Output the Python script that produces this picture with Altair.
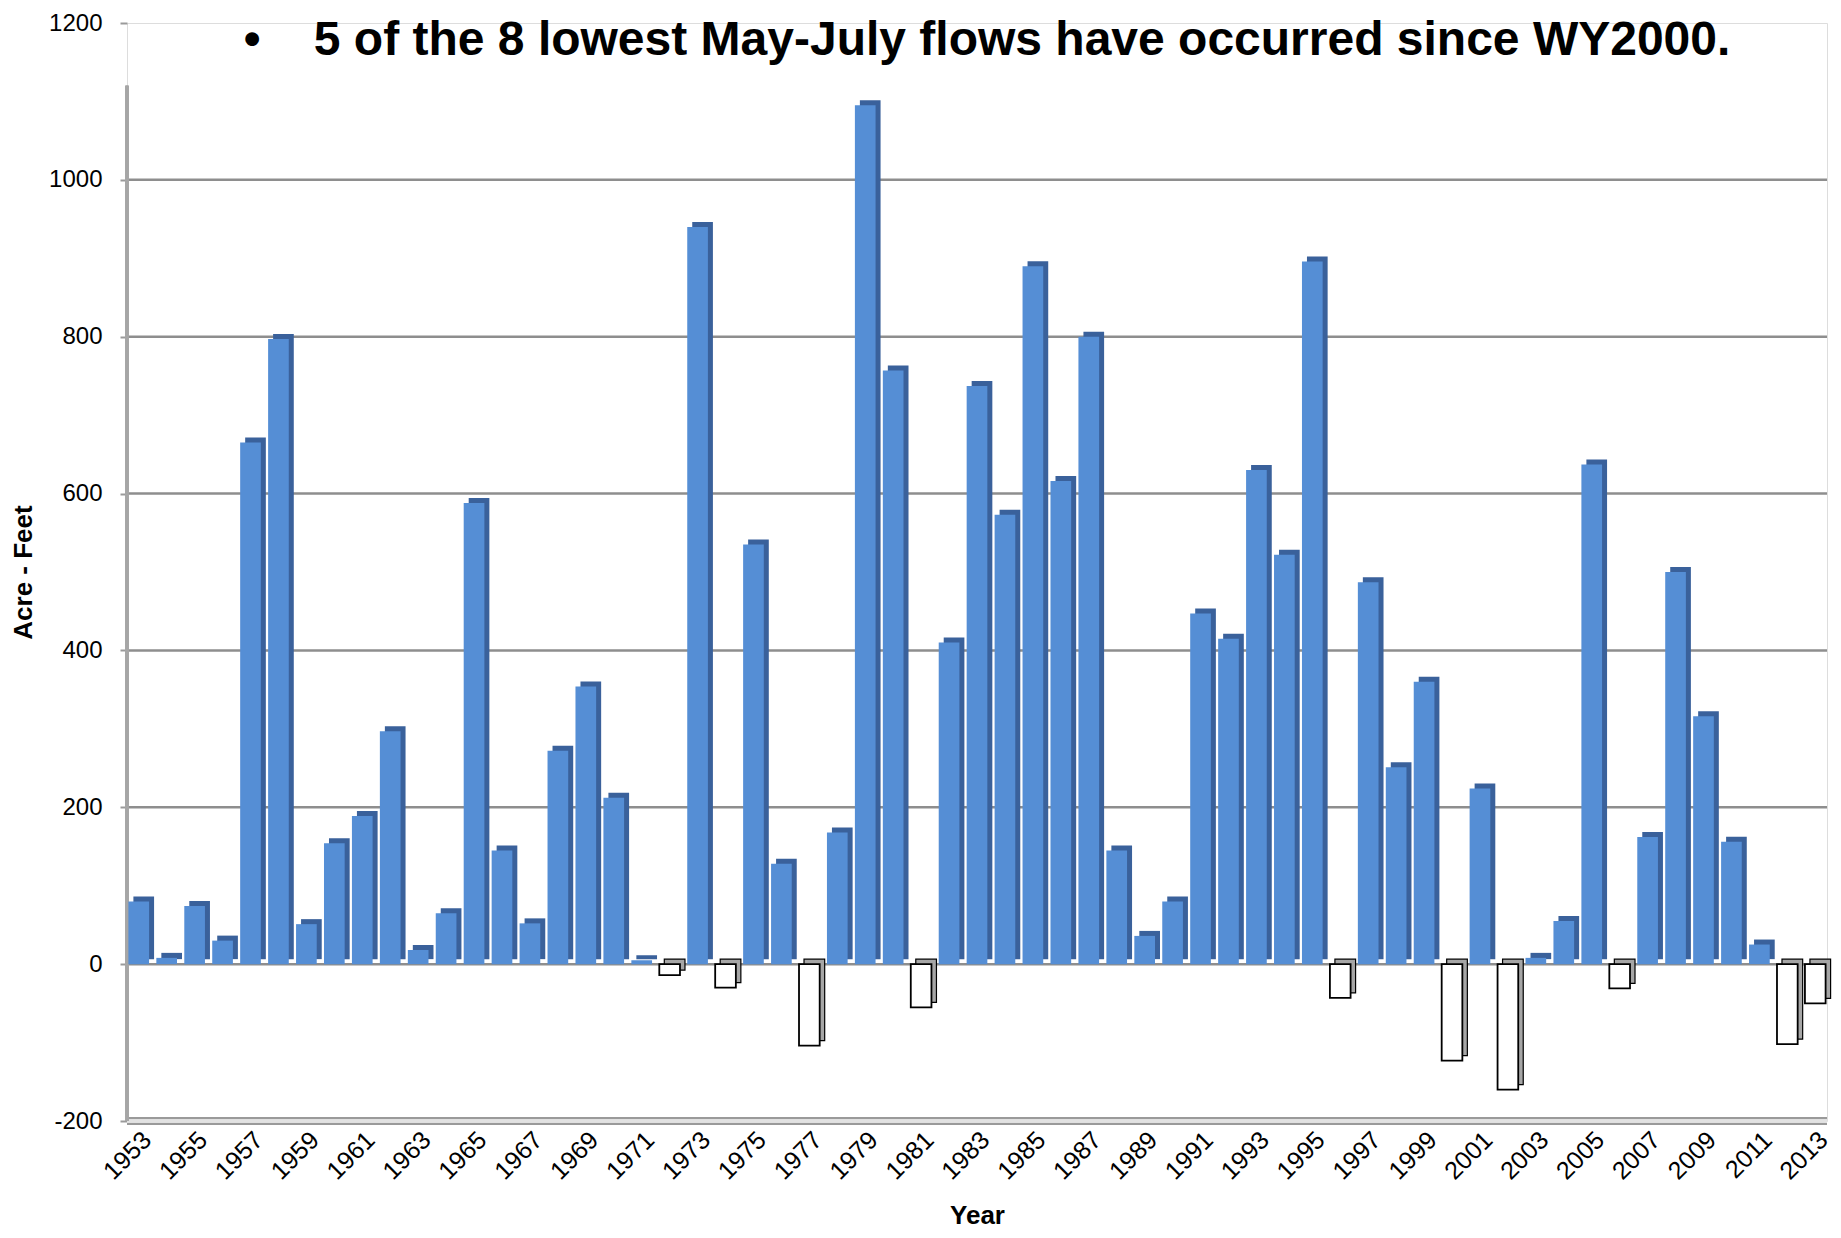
import altair as alt
import pandas as pd

years = list(range(1953, 2014))
values = [
    80, 8, 74, 30, 665, 797, 51, 154, 189, 297,
    18, 65, 588, 145, 52, 272, 354, 212, 5, -14,
    940, -30, 535, 128, -104, 168, 1095, 757, -55, 410,
    737, 573, 890, 616, 800, 145, 36, 80, 447, 415,
    630, 522, 896, -43, 487, 251, 360, -123, 224, -160,
    8, 55, 637, -31, 162, 500, 316, 156, 25, -102, -50,
]
label_years = [1953 + 2 * i for i in range(31)]
y_ticks = [-200, 0, 200, 400, 600, 800, 1000, 1200]
grid_values = [0, 200, 400, 600, 800, 1000]

title_text = "\u2022\u00a0\u00a0\u00a0\u00a05 of the 8 lowest May-July flows have occurred since WY2000."

df = pd.DataFrame({"year": years, "value": values})
df["kind"] = ["pos" if v >= 0 else "neg" for v in values]
grid_df = pd.DataFrame({"g": grid_values})
title_df = pd.DataFrame({"t": [title_text]})

FONT = "Liberation Sans, Arial, sans-serif"
Y_SCALE = alt.Scale(domain=[-200, 1200], nice=False, zero=False)

x_enc = alt.X(
    "year:O",
    scale=alt.Scale(paddingInner=0.26, paddingOuter=0.05),
    axis=alt.Axis(
        values=label_years,
        labelAngle=-45,
        labelFont=FONT,
        labelFontSize=25,
        labelColor="black",
        labelPadding=6,
        labelOffset=0,
        domain=False,
        ticks=False,
        grid=False,
        title="Year",
        titleFont=FONT,
        titleFontSize=26,
        titleFontWeight="bold",
        titleColor="black",
        titlePadding=18,
    ),
)

y_axis = alt.Axis(
    values=y_ticks,
    labelExpr="'' + datum.value",
    labelFont=FONT,
    labelFontSize=24,
    labelColor="black",
    labelPadding=18,
    tickSize=7,
    tickWidth=2,
    tickColor="#9a9a9a",
    domain=False,
    grid=False,
    title="Acre - Feet",
    titleFont=FONT,
    titleFontSize=26,
    titleFontWeight="bold",
    titleColor="black",
    titlePadding=12,
)

grid = alt.Chart(grid_df).mark_rule(color="#8e8e8e", strokeWidth=2.5).encode(
    y=alt.Y("g:Q", scale=Y_SCALE, axis=y_axis, title="Acre - Feet")
)

floor_outer = alt.Chart(grid_df).mark_rule(color="#9a9a9a", strokeWidth=8).encode(
    y=alt.datum(-200)
)
floor_inner = alt.Chart(grid_df).mark_rule(color="#e2e2e2", strokeWidth=3).encode(
    y=alt.datum(-200)
)
yaxis_line = alt.Chart(grid_df).mark_rule(color="#a6a6a6", strokeWidth=3).encode(
    x=alt.value(0), y=alt.datum(-200), y2=alt.datum(1120)
)

base = alt.Chart(df).encode(
    x=x_enc, y=alt.Y("value:Q", scale=Y_SCALE, axis=y_axis, title="Acre - Feet")
)

pos_shadow = base.transform_filter(alt.datum.kind == "pos").mark_bar(
    color="#3a619b", xOffset=5, yOffset=-5
)
pos_front = base.transform_filter(alt.datum.kind == "pos").mark_bar(color="#558ed5")
neg_shadow = base.transform_filter(alt.datum.kind == "neg").mark_bar(
    color="#a6a6a6", stroke="black", strokeWidth=1.2, xOffset=5, yOffset=-5
)
neg_front = base.transform_filter(alt.datum.kind == "neg").mark_bar(
    color="white", stroke="black", strokeWidth=1.8
)

title_mark = alt.Chart(title_df).mark_text(
    font=FONT, fontSize=48, fontWeight="bold", color="black",
    align="center", baseline="alphabetic",
).encode(text="t:N", x=alt.value(860), y=alt.value(32))

chart = (
    alt.layer(grid, floor_outer, floor_inner, yaxis_line,
              pos_shadow, pos_front, neg_shadow, neg_front, title_mark)
    .properties(
        width=1700,
        height=1098,
        padding={"left": 119, "top": 15, "right": 6, "bottom": 109},
        autosize=alt.AutoSizeParams(type="none"),
    )
    .configure_view(strokeWidth=0)
    .configure(background="white")
)

chart.save("out.html", embed_options={"renderer": "svg", "actions": False})
